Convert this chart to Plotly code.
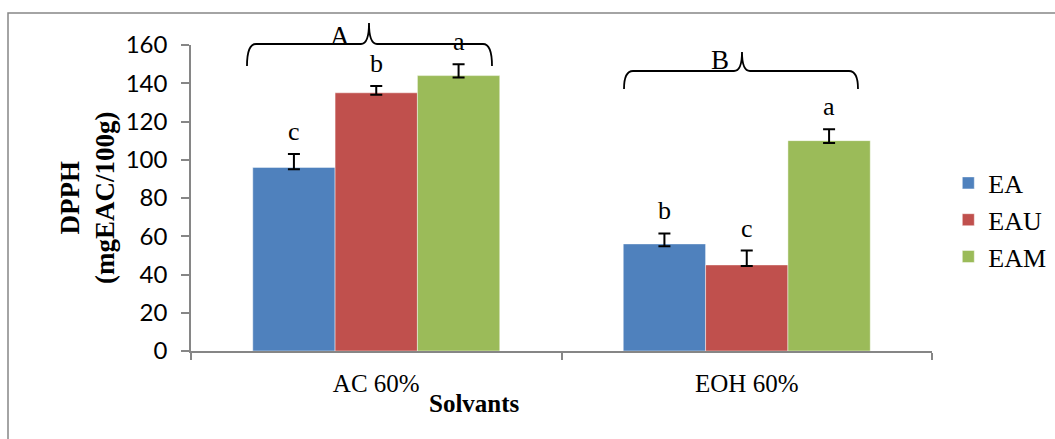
import plotly.graph_objects as go

categories = ["AC 60%", "EOH 60%"]
series_names = ["EA", "EAU", "EAM"]
EA = [96, 56]
EAU = [135, 45]
EAM = [144, 110]
EA_err_plus = [7, 5.5]
EA_err_minus = [1, 1.2]
EAU_err_plus = [3.5, 7.5]
EAU_err_minus = [1, 0.5]
EAM_err_plus = [6, 6]
EAM_err_minus = [1, 1.2]
EA_letters = ["c", "b"]
EAU_letters = ["b", "c"]
EAM_letters = ["a", "a"]
group_letters = ["A", "B"]
y_ticks = [0, 20, 40, 60, 80, 100, 120, 140, 160]

colors = ["#4F81BD", "#C0504D", "#9BBB59"]
axis_gray = "#868686"
serif = "Liberation Serif"

W, H = 1055, 439
L, R, T, B = 191, 123, 45, 88
PW, PH = W - L - R, H - T - B


def px(x):
    return (x - L) / PW


def py(y):
    return (H - B - y) / PH


values = [EA, EAU, EAM]
plus = [EA_err_plus, EAU_err_plus, EAM_err_plus]
minus = [EA_err_minus, EAU_err_minus, EAM_err_minus]
letters = [EA_letters, EAU_letters, EAM_letters]

fig = go.Figure()
for i, name in enumerate(series_names):
    fig.add_trace(go.Bar(
        name=name, x=categories, y=values[i],
        marker=dict(color=colors[i], line=dict(color="rgba(255,255,255,0.45)", width=1)),
        error_y=dict(type="data", symmetric=False, array=plus[i], arrayminus=minus[i],
                     color="black", thickness=2, width=6),
        legendgroup=name,
    ))

bargap = 1 / 3
bw = (1 - bargap) / 3
annotations = []
for i in range(3):
    for j in range(len(categories)):
        annotations.append(dict(
            x=j + (i - 1) * bw, y=values[i][j] + plus[i][j], xref="x", yref="y",
            text=letters[i][j], showarrow=False, yanchor="bottom", yshift=6,
            font=dict(family=serif, size=26, color="black")))

# group braces
braces = [
    dict(l=247, r=492, h=44, e=66, c=369, top=23, lx=340, ly=36),
    dict(l=624, r=858, h=71, e=89, c=742, top=52, lx=720, ly=60),
]
shapes = []
for k, b in enumerate(braces):
    pts = [
        ("M", [(b["l"], b["e"])]),
        ("Q", [(b["l"], b["h"]), (b["l"] + 9, b["h"])]),
        ("L", [(b["c"] - 8, b["h"])]),
        ("Q", [(b["c"], b["h"]), (b["c"], b["top"])]),
        ("Q", [(b["c"], b["h"]), (b["c"] + 8, b["h"])]),
        ("L", [(b["r"] - 9, b["h"])]),
        ("Q", [(b["r"], b["h"]), (b["r"], b["e"])]),
    ]
    path = " ".join(cmd + " " + " ".join(f"{px(x):.5f},{py(y):.5f}" for x, y in p) for cmd, p in pts)
    shapes.append(dict(type="path", xref="paper", yref="paper", path=path,
                       line=dict(color="black", width=1.8)))
    annotations.append(dict(x=px(b["lx"]), y=py(b["ly"]), xref="paper", yref="paper",
                            text=group_letters[k], showarrow=False, xanchor="center", yanchor="middle",
                            font=dict(family=serif, size=27, color="black")))

# outer frame
shapes.append(dict(type="rect", xref="paper", yref="paper", x0=px(8), y0=py(460), x1=px(1070), y1=py(13),
                   line=dict(color=axis_gray, width=1.5), layer="below"))

annotations.append(dict(x=-0.1404, y=0.5, xref="paper", yref="paper", textangle=-90,
                        text="<b>DPPH</b><br><b>(mgEAC/100g)</b>", showarrow=False,
                        xanchor="center", yanchor="middle",
                        font=dict(family=serif, size=27, color="black")))
annotations.append(dict(x=px(474), y=py(403), xref="paper", yref="paper",
                        text="<b>Solvants</b>", showarrow=False, xanchor="center", yanchor="middle",
                        font=dict(family=serif, size=25, color="black")))

fig.update_layout(
    width=W, height=H, margin=dict(l=L, r=R, t=T, b=B, autoexpand=False),
    paper_bgcolor="white", plot_bgcolor="white",
    barmode="group", bargap=bargap, bargroupgap=0,
    showlegend=True,
    legend=dict(x=1.022, xanchor="left", y=py(220), yanchor="middle",
                font=dict(family=serif, size=26, color="black"),
                tracegroupgap=7, traceorder="normal", bgcolor="rgba(0,0,0,0)"),
    xaxis=dict(type="category", tickson="boundaries", ticks="outside", ticklen=7, tickwidth=1.5,
               tickcolor=axis_gray, showline=True, linecolor=axis_gray, linewidth=1.5,
               showgrid=False, tickfont=dict(family=serif, size=25, color="black"),
               ticklabelstandoff=9),
    yaxis=dict(range=[0, 160], tickvals=y_ticks, ticks="outside", ticklen=8, tickwidth=1.5,
               tickcolor=axis_gray, showline=True, linecolor=axis_gray, linewidth=1.5,
               showgrid=False, zeroline=False, tickfont=dict(family="Lato", size=24, color="black"),
               ticklabelstandoff=9),
    shapes=shapes, annotations=annotations,
)

fig.write_html("out.html")
